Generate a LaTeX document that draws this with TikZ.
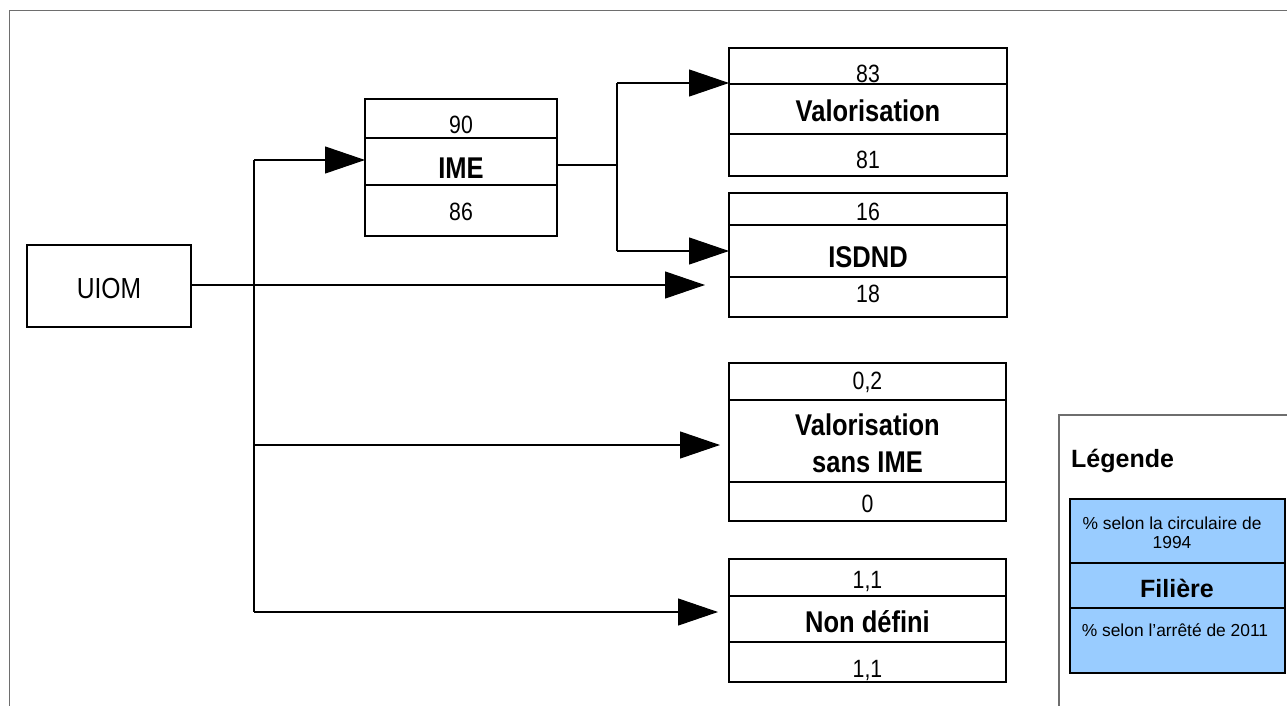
\documentclass[tikz,border=0pt]{standalone}
\usepackage{fontspec}
\setmainfont{Liberation Sans}
\newfontfamily\narrowf[FakeStretch=0.85]{Liberation Sans}
\usetikzlibrary{arrows.meta}
\definecolor{legblue}{HTML}{99CCFF}
\definecolor{framegray}{HTML}{6E6E6E}
\begin{document}
\begin{tikzpicture}[x=1pt,y=-1pt,
  box/.style={draw=black, line width=1.1pt, inner sep=0pt, outer sep=0pt, anchor=north west},
  divline/.style={draw=black, line width=1.1pt},
  framestyle/.style={draw=framegray, line width=1.2pt},
  num/.style={anchor=base, inner sep=0pt, font=\narrowf\fontsize{25}{30}\selectfont},
  ttl/.style={anchor=base, inner sep=0pt, font=\narrowf\bfseries\fontsize{30}{34}\selectfont},
  bigtxt/.style={anchor=base, inner sep=0pt, font=\narrowf\fontsize{29}{34}\selectfont},
  legsmall/.style={anchor=base, inner sep=0pt, font=\fontsize{17.4}{21}\selectfont},
  legbold/.style={anchor=base, inner sep=0pt, font=\bfseries\fontsize{25}{30}\selectfont},
  wire/.style={draw=black, line width=1.1pt},
  arr/.style={wire, -{Triangle[length=40pt,width=27pt]}}]
\clip (0,0) rectangle (1287,706);
\fill[white] (0,0) rectangle (1287,706);
% outer frame
\draw[framestyle] (9.5,10.5) rectangle (1300,720);

% UIOM
\node[box, minimum width=164pt, minimum height=82pt] (uiom) at (27,245) {};
\node[bigtxt] (uiomt) at (109,298) {UIOM};

% IME
\node[box, minimum width=192pt, minimum height=137pt] (ime) at (365,99) {};
\draw[divline] (ime.west |- 0,138) -- (ime.east |- 0,138);
\draw[divline] (ime.west |- 0,185) -- (ime.east |- 0,185);
\node[num] (ime1) at (461,134) {90};
\node[ttl] (ime2) at (461,178) {IME};
\node[num] (ime3) at (461,220) {86};

% Valorisation
\node[box, minimum width=278pt, minimum height=128pt] (val) at (729,48) {};
\draw[divline] (val.west |- 0,84) -- (val.east |- 0,84);
\draw[divline] (val.west |- 0,134) -- (val.east |- 0,134);
\node[num] (val1) at (868,83) {83};
\node[ttl] (val2) at (868,122) {Valorisation};
\node[num] (val3) at (868,168) {81};

% ISDND
\node[box, minimum width=278pt, minimum height=124pt] (isdnd) at (729,193) {};
\draw[divline] (isdnd.west |- 0,225) -- (isdnd.east |- 0,225);
\draw[divline] (isdnd.west |- 0,277) -- (isdnd.east |- 0,277);
\node[num] (isd1) at (868,220) {16};
\node[ttl] (isd2) at (868,267) {ISDND};
\node[num] (isd3) at (868,302) {18};

% Valorisation sans IME
\node[box, minimum width=277pt, minimum height=158pt] (sans) at (729,363) {};
\draw[divline] (sans.west |- 0,400) -- (sans.east |- 0,400);
\draw[divline] (sans.west |- 0,482) -- (sans.east |- 0,482);
\node[num] (sans1) at (867.5,389) {0,2};
\node[ttl] (sans2) at (867.5,435) {Valorisation};
\node[ttl] (sans2b) at (867.5,472) {sans IME};
\node[num] (sans3) at (867.5,512) {0};

% Non defini
\node[box, minimum width=277pt, minimum height=123pt] (nd) at (729,559) {};
\draw[divline] (nd.west |- 0,596) -- (nd.east |- 0,596);
\draw[divline] (nd.west |- 0,642) -- (nd.east |- 0,642);
\node[num] (nd1) at (867.5,588) {1,1};
\node[ttl] (nd2) at (867.5,632) {Non défini};
\node[num] (nd3) at (867.5,677) {1,1};

% connectors
\coordinate (tA) at (254,160);
\coordinate (tC) at (254,445);
\coordinate (tD) at (254,612);
\coordinate (tB) at (254,285);
\draw[wire] (tA) -- (tD);
\draw[arr] (tA) -- (tA -| ime.west);
\draw[arr, shorten >=24pt] (uiom.east |- tB) -- (tB -| isdnd.west);
\draw[arr, shorten >=9pt] (tC) -- (tC -| sans.west);
\draw[arr, shorten >=11pt] (tD) -- (tD -| nd.west);

\coordinate (k) at (617,165);
\coordinate (kA) at (617,83);
\coordinate (kB) at (617,251);
\draw[wire] (ime.east |- k) -- (k);
\draw[wire] (kA) -- (kB);
\draw[arr] (kA) -- (kA -| val.west);
\draw[arr] (kB) -- (kB -| isdnd.west);

% legend
\draw[framestyle] (1059,415) rectangle (1300,720);
\node[legbold, anchor=base west] (legt) at (1071,467) {Légende};
\node[box, fill=legblue, minimum width=215pt, minimum height=174pt] (leg) at (1070,499) {};
\draw[divline] (leg.west |- 0,563) -- (leg.east |- 0,563);
\draw[divline] (leg.west |- 0,608) -- (leg.east |- 0,608);
\node[legsmall] (leg1) at (1172,529) {\% selon la circulaire de};
\node[legsmall] (leg1b) at (1172,548) {1994};
\node[legbold] (leg2) at (1177,597) {Filière};
\node[legsmall] (leg3) at (1175,636) {\% selon l’arrêté de 2011};
\end{tikzpicture}
\end{document}
